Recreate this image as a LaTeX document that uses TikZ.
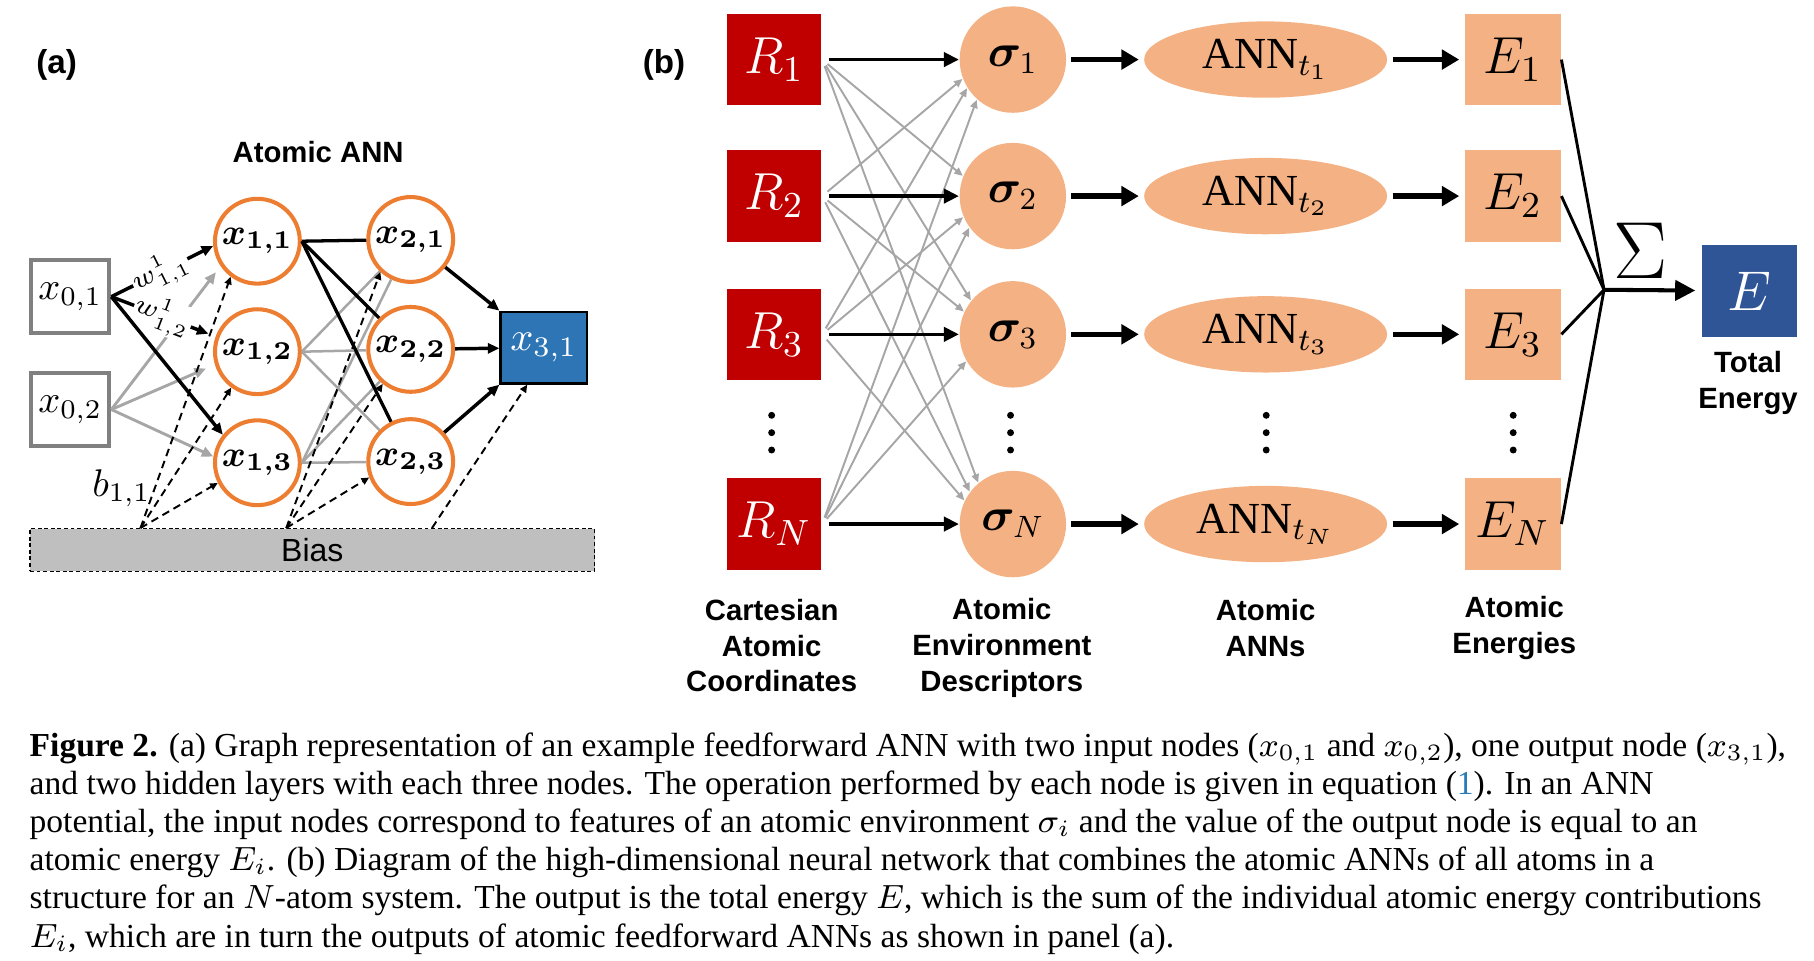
\RequirePackage{fix-cm}
\documentclass[tikz,border=0pt]{standalone}
\usepackage{amsmath}
\usepackage{bm}
\usepackage{fontspec}
\setmainfont{Liberation Serif}
\setsansfont{Liberation Sans}
\usetikzlibrary{positioning, arrows.meta, shapes.geometric}

\definecolor{nodeorange}{HTML}{ED7D31}
\definecolor{outblue}{HTML}{2E75B6}
\definecolor{boxgray}{HTML}{808080}
\definecolor{linkgray}{HTML}{A6A6A6}
\definecolor{biasgray}{HTML}{BFBFBF}
\definecolor{atomred}{HTML}{C00000}
\definecolor{peach}{HTML}{F4B183}
\definecolor{totblue}{HTML}{2F5597}
\definecolor{citeblue}{HTML}{2B7BB9}

\begin{document}
\begin{tikzpicture}[x=0.3pt, y=-0.3pt,
    title/.style={font=\sffamily\bfseries\fontsize{8.6}{10}\selectfont},
    head/.style={font=\sffamily\bfseries\fontsize{7.6}{9.3}\selectfont, align=center, inner sep=0pt},
    inbox/.style={draw=boxgray, line width=1.05pt, fill=white, minimum width=20.3pt, minimum height=19pt, inner sep=0pt, font=\fontsize{10}{12}\selectfont},
    neuron/.style={circle, draw=nodeorange, line width=1.05pt, fill=white, minimum size=22pt, inner sep=0pt, font=\fontsize{9.5}{11}\selectfont},
    outbox/.style={draw=black, line width=0.6pt, fill=outblue, text=white, minimum width=22.4pt, minimum height=18.6pt, inner sep=0pt, font=\fontsize{10.5}{12}\selectfont},
    biasbox/.style={draw=black, dash pattern=on 1pt off 0.7pt, line width=0.35pt, fill=biasgray, minimum width=146.4pt, minimum height=11.1pt, inner sep=0pt, font=\sffamily\fontsize{8.3}{10}\selectfont},
    wlabel/.style={fill=white, inner sep=0.2pt, font=\fontsize{6.8}{7}\selectfont},
    blackarr/.style={draw=black, line width=0.9pt, -{Triangle[length=3pt,width=2.6pt]}},
    grayarr/.style={draw=linkgray, line width=0.75pt, -{Triangle[length=3pt,width=2.6pt]}},
    hidblack/.style={draw=black, line width=0.85pt},
    hidgray/.style={draw=linkgray, line width=0.65pt},
    biasarr/.style={draw=black, dash pattern=on 2pt off 1.3pt, line width=0.5pt, -{Triangle[length=2pt,width=1.8pt]}},
    atombox/.style={fill=atomred, text=white, minimum width=24.6pt, minimum height=23.7pt, inner sep=0pt, font=\fontsize{13.5}{16}\selectfont},
    desc/.style={circle, fill=peach, minimum size=27.6pt, inner sep=0pt, font=\fontsize{12}{14}\selectfont},
    annnet/.style={ellipse, fill=peach, minimum width=63pt, minimum height=19.8pt, inner sep=0pt, font=\fontsize{11.5}{14}\selectfont},
    enbox/.style={fill=peach, minimum width=24.9pt, minimum height=23.7pt, inner sep=0pt, font=\fontsize{13.5}{16}\selectfont},
    totbox/.style={fill=totblue, text=white, minimum width=24.6pt, minimum height=23.7pt, inner sep=0pt, font=\fontsize{14.5}{17}\selectfont},
    rowarr/.style={draw=black, line width=0.9pt, shorten <=1.8pt, -{Triangle[length=3.9pt,width=3.7pt]}},
    feedarr/.style={draw=linkgray, line width=0.5pt, shorten <=1.8pt, -{Triangle[length=2.2pt,width=1.9pt]}},
    thickarr/.style={draw=black, line width=1.35pt, shorten <=1.2pt, shorten >=1.2pt, -{Triangle[length=4.5pt,width=5pt]}},
    sumline/.style={draw=black, line width=0.75pt},
    caption/.style={font=\fontsize{8.7}{9.9}\selectfont, align=left, inner sep=0pt},
]
\useasboundingbox (0,0) rectangle (1568,830);

% Panel (a): the atomic ANN
\node[title] (pa) at (49,56) {(a)};
\node[head] (atomicann) at (275,131) {Atomic ANN};

\node[inbox] (x01) at (60.7,256.5) {$x_{0{,}1}$};
\node[inbox] (x02) at (60.7,354) {$x_{0{,}2}$};
\node[neuron] (x11) at (222.5,208.5) {$\bm{x_{1{,}1}}$};
\node[neuron] (x12) at (222.5,304) {$\bm{x_{1{,}2}}$};
\node[neuron] (x13) at (222.5,400) {$\bm{x_{1{,}3}}$};
\node[neuron] (x21) at (355,207) {$\bm{x_{2{,}1}}$};
\node[neuron] (x22) at (355,302) {$\bm{x_{2{,}2}}$};
\node[neuron] (x23) at (355,399) {$\bm{x_{2{,}3}}$};
\node[outbox] (x31) at (470,300.5) {$x_{3{,}1}$};
\node[biasbox] (bias) at (270,475.5) {Bias};
\node[font=\fontsize{10}{12}\selectfont] (b11) at (105,422) {$b_{1{,}1}$};

\path (bias.north west) ++(96,0) coordinate (b1) ++(126,0) coordinate (b2) ++(126,0) coordinate (b3);

% hidden layer links
\foreach \src in {x12, x13}
    \foreach \dst in {x21, x22, x23}
        \draw[hidgray] (\src.east) -- (\dst);
\foreach \dst in {x21, x22, x23}
    \draw[hidblack] (x11.east) -- (\dst);

% input links
\draw[grayarr, shorten >=2pt] (x02.east) -- (x11.214);
\draw[grayarr, shorten >=2.5pt] (x02.east) -- (x12.197);
\draw[grayarr] (x02.east) -- (x13.172);
\draw[blackarr] (x01.east) -- node[wlabel, sloped, pos=0.48] {$w^{1}_{1{,}1}$} (x11.186);
\draw[blackarr, shorten >=2pt] (x01.east) -- node[wlabel, sloped, pos=0.49] {$w^{1}_{1{,}2}$} (x12.160);
\draw[blackarr] (x01.east) -- (x13.141);

% output links
\draw[blackarr] (x21) -- (x31.north west);
\draw[blackarr] (x22) -- (x31);
\draw[blackarr] (x23) -- (x31.south west);

% bias links
\draw[biasarr] (b1) -- (x11.233);
\draw[biasarr] (b1) -- (x12.234);
\draw[biasarr] (b1) -- (x13.207);
\draw[biasarr] (b2) -- (x21.227);
\draw[biasarr] (b2) -- (x22.231);
\draw[biasarr] (b2) -- (x23.201);
\draw[biasarr] (b3) -- (x31.246);

% Panel (b): the high-dimensional network
\node[title] (pb) at (574,56) {(b)};

\foreach \i/\y/\s in {1/51.5/1, 2/169.5/2, 3/289/3, 4/453/N} {
    \node[atombox] (R\i) at (669,\y) {$R_{\s}$};
    \node[desc] (s\i) at (875.5,\y) {$\bm{\sigma}_{\s}$};
    \node[annnet] (A\i) at (1094,\y) {$\mathrm{ANN}_{t_{\s}}$};
    \node[enbox] (E\i) at (1307.5,\y) {$E_{\s}$};
}

\foreach \cx in {667, 873.5, 1094.5, 1308}
    \foreach \cy in {359, 374, 389}
        \fill (\cx,\cy) circle[radius=0.9pt];

% cross links between atoms and descriptors
\foreach \src/\dst/\ang in {R1/s2/158, R1/s3/141, R1/s4/130,
                            R2/s1/201, R2/s3/155, R2/s4/143,
                            R3/s1/212, R3/s2/203, R3/s4/154,
                            R4/s1/228, R4/s2/216, R4/s3/210}
    \draw[feedarr] (\src.east) -- (\dst.\ang);

\foreach \i in {1,...,4} {
    \draw[rowarr] (R\i.east) -- (s\i);
    \draw[thickarr] (s\i) -- (A\i);
    \draw[thickarr] (A\i) -- (E\i);
}

% summation
\node[totbox] (Etot) at (1512,251.5) {$E$};
\coordinate (sum) at (1386.5,250.5);
\foreach \i in {1,...,4}
    \draw[sumline] (E\i.east) -- (sum);
\draw[draw=black, line width=1.05pt, shorten >=1.5pt, -{Triangle[length=5.2pt,width=5.2pt]}] (sum) -- (Etot);
\node[font=\fontsize{21}{21}\selectfont, inner sep=0pt] (sigma) at (1418,217) {$\Sigma$};

\node[head] (lbltot) at (1511,331) {Total\\Energy};
\node[head] (lblcoord) at (667,558) {Cartesian\\Atomic\\Coordinates};
\node[head] (lbldesc) at (866,560) {Atomic\\Environment\\Descriptors};
\node[head] (lblann) at (1094,542.5) {Atomic\\ANNs};
\node[head] (lblen) at (1309,542.5) {Atomic\\Energies};

% caption
\node[caption, anchor=north west] (cap) at (25,632.5) {%
\textbf{Figure 2.} (a) Graph representation of an example feedforward ANN with two input nodes ($x_{0{,}1}$ and $x_{0{,}2}$), one output node ($x_{3{,}1}$),\\
and two hidden layers with each three nodes. The operation performed by each node is given in equation (\textcolor{citeblue}{1}). In an ANN\\
potential, the input nodes correspond to features of an atomic environment $\sigma_i$ and the value of the output node is equal to an\\
atomic energy $E_i$. (b) Diagram of the high-dimensional neural network that combines the atomic ANNs of all atoms in a\\
structure for an $N$-atom system. The output is the total energy $E$, which is the sum of the individual atomic energy contributions\\
$E_i$, which are in turn the outputs of atomic feedforward ANNs as shown in panel (a).};

\end{tikzpicture}
\end{document}
